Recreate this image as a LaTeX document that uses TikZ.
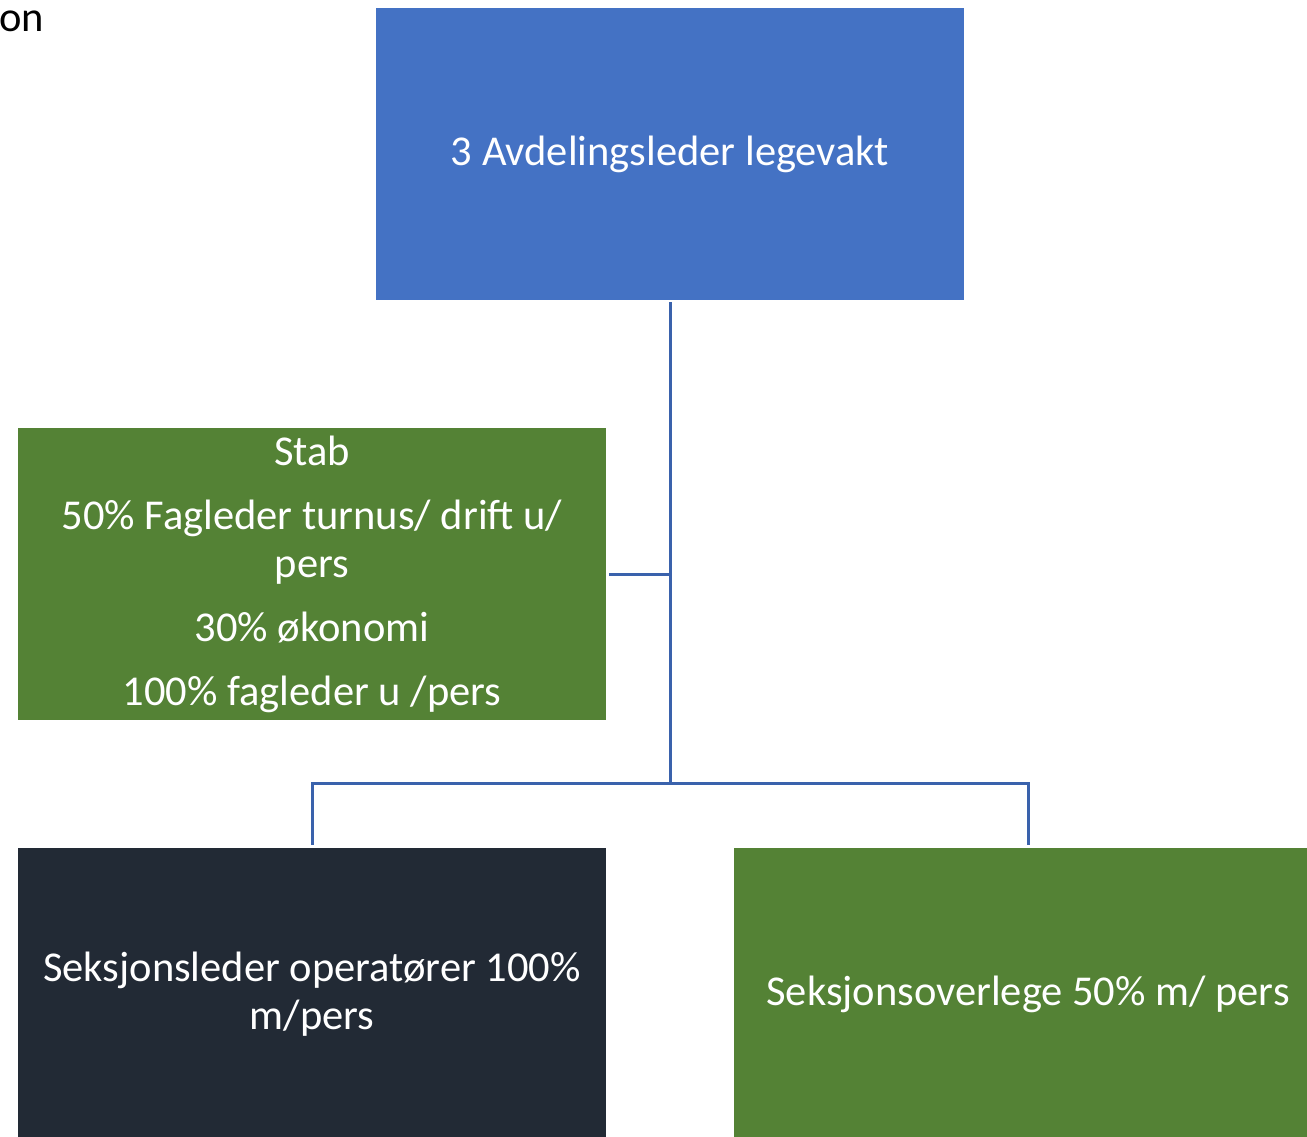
\documentclass[tikz,border=0pt]{standalone}
\usepackage{fontspec}
\setmainfont{Carlito}
\definecolor{boxblue}{HTML}{4472C4}
\definecolor{boxgreen}{HTML}{548235}
\definecolor{boxdark}{HTML}{222A35}
\definecolor{linkblue}{HTML}{3A62AC}
\begin{document}
\begin{tikzpicture}[x=1pt,y=-1pt,
  orgbox/.style={rectangle, minimum width=588pt, minimum height=292pt, inner sep=0pt,
    text=white, align=center, font=\fontsize{42.5}{48}\selectfont},
  link/.style={draw=linkblue, line width=3pt}]
\useasboundingbox (0,0) rectangle (1307,1137);
\node[anchor=east, font=\fontsize{42.5}{48}\selectfont, inner sep=0pt] (cut) at (44,21) {on};
\node[orgbox, fill=boxblue] (top) at (670,154) {3 Avdelingsleder legevakt};
\node[orgbox, fill=boxgreen] (stab) at (312,574) {Stab\\[16pt]50\% Fagleder turnus/ drift u/\\pers\\[16pt]30\% økonomi\\[16pt]100\% fagleder u /pers};
\node[orgbox, fill=boxdark] (sek) at (312,994) {Seksjonsleder operatører 100\%\\m/pers};
\node[orgbox, fill=boxgreen] (over) at (1028,994) {Seksjonsoverlege 50\% m/ pers};
\coordinate (j) at (670,783);
\draw[link, shorten <=2pt] (top.south) -- (j);
\draw[link, shorten <=3pt] (stab.east) -- (stab.east -| top.south);
\draw[link, shorten <=3pt] (sek.north) |- (j);
\draw[link, shorten <=3pt] (over.north) |- (j);
\end{tikzpicture}
\end{document}
